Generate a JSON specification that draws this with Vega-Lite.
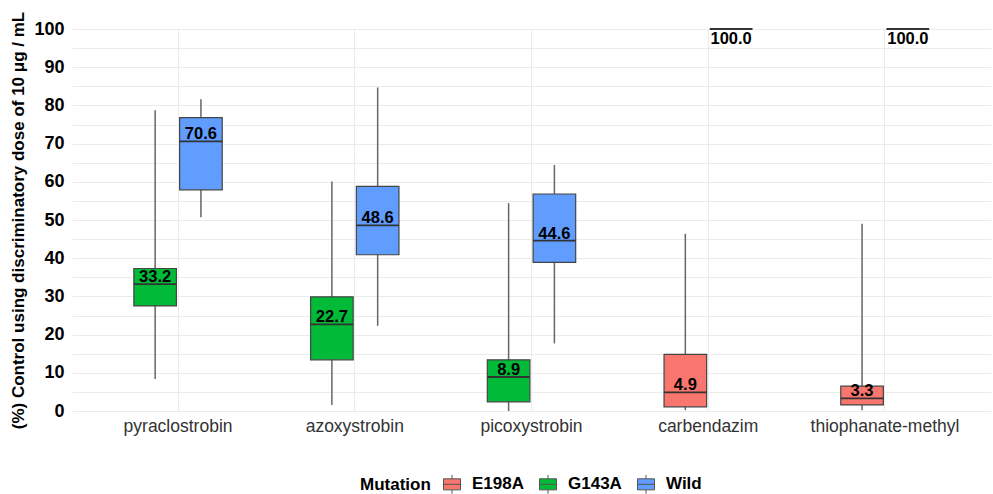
{
  "$schema": "https://vega.github.io/schema/vega-lite/v6.json",
  "autosize": {"type": "none"},
  "width": 919,
  "height": 382,
  "padding": {"left": 72, "top": 29, "right": 2, "bottom": 83},
  "background": "white",
  "config": {
    "view": {"stroke": null},
    "font": "Liberation Sans"
  },
  "data": {
    "values": [
      {"Fungicide": "pyraclostrobin", "Mutation": "G143A", "Slot": "1", "lo": 8.4, "q1": 27.5, "median": 33.2, "q3": 37.3, "hi": 78.7},
      {"Fungicide": "pyraclostrobin", "Mutation": "Wild", "Slot": "2", "lo": 50.7, "q1": 57.9, "median": 70.6, "q3": 76.8, "hi": 81.6},
      {"Fungicide": "azoxystrobin", "Mutation": "G143A", "Slot": "1", "lo": 1.6, "q1": 13.4, "median": 22.7, "q3": 29.9, "hi": 60.1},
      {"Fungicide": "azoxystrobin", "Mutation": "Wild", "Slot": "2", "lo": 22.3, "q1": 40.9, "median": 48.6, "q3": 58.8, "hi": 84.7},
      {"Fungicide": "picoxystrobin", "Mutation": "G143A", "Slot": "1", "lo": 0.0, "q1": 2.4, "median": 8.9, "q3": 13.4, "hi": 54.4},
      {"Fungicide": "picoxystrobin", "Mutation": "Wild", "Slot": "2", "lo": 17.7, "q1": 38.9, "median": 44.6, "q3": 56.8, "hi": 64.4},
      {"Fungicide": "carbendazim", "Mutation": "E198A", "Slot": "1", "lo": 0.2, "q1": 1.1, "median": 4.9, "q3": 14.8, "hi": 46.4},
      {"Fungicide": "carbendazim", "Mutation": "Wild", "Slot": "2", "lo": 100, "q1": 100, "median": 100, "q3": 100, "hi": 100},
      {"Fungicide": "thiophanate-methyl", "Mutation": "E198A", "Slot": "1", "lo": 0.2, "q1": 1.6, "median": 3.3, "q3": 6.5, "hi": 49.0},
      {"Fungicide": "thiophanate-methyl", "Mutation": "Wild", "Slot": "2", "lo": 100, "q1": 100, "median": 100, "q3": 100, "hi": 100}
    ]
  },
  "encoding": {
    "x": {
      "field": "Fungicide",
      "type": "nominal",
      "sort": ["pyraclostrobin", "azoxystrobin", "picoxystrobin", "carbendazim", "thiophanate-methyl"],
      "scale": {"paddingInner": 0.5, "paddingOuter": 0.35},
      "axis": {
        "title": null,
        "labelAngle": 0,
        "domain": false,
        "ticks": false,
        "grid": true,
        "bandPosition": 0.5,
        "gridColor": "#EBEBEB",
        "gridWidth": 1,
        "labelFontSize": 17.5,
        "labelColor": "#333333",
        "labelPadding": 6
      }
    },
    "xOffset": {
      "field": "Slot",
      "type": "nominal",
      "scale": {"paddingInner": 0.07, "paddingOuter": 0}
    }
  },
  "layer": [
    {
      "mark": {"type": "rule", "color": "#666666", "strokeWidth": 1.5},
      "encoding": {
        "y": {
          "field": "lo",
          "type": "quantitative",
          "scale": {"domain": [0, 100], "nice": false},
          "axis": {
            "title": "(%) Control using discriminatory dose of 10 μg / mL",
            "titleFontSize": 17,
            "titleFontWeight": "bold",
            "titleColor": "black",
            "titlePadding": 6,
            "tickCount": 20,
            "labelExpr": "datum.value % 10 === 0 ? datum.label : ''",
            "labelOverlap": false,
            "labelFontSize": 18,
            "labelFontWeight": "bold",
            "labelColor": "black",
            "labelPadding": 8,
            "domain": false,
            "ticks": false,
            "gridColor": "#EBEBEB",
            "gridWidth": 1
          }
        },
        "y2": {"field": "hi"}
      }
    },
    {
      "mark": {"type": "bar", "stroke": "#444444", "strokeWidth": 1.2, "opacity": 1},
      "encoding": {
        "y": {"field": "q1", "type": "quantitative"},
        "y2": {"field": "q3"},
        "color": {
          "field": "Mutation",
          "type": "nominal",
          "scale": {"domain": ["E198A", "G143A", "Wild"], "range": ["#F8766D", "#00BA38", "#619CFF"]},
          "legend": {
            "orient": "none",
            "legendX": 288,
            "legendY": 446,
            "direction": "horizontal",
            "titleOrient": "left",
            "title": "Mutation",
            "titleFontSize": 17,
            "titleFontWeight": "bold",
            "titleColor": "black",
            "titlePadding": 12,
            "labelFontSize": 17,
            "labelFontWeight": "bold",
            "labelColor": "black",
            "labelOffset": 11,
            "symbolType": "M-1,-0.65H1V0.65H-1Z M-1,0H1 M0,-0.65V-1.1 M0,0.65V1.1",
            "symbolSize": 289,
            "symbolStrokeColor": "#555555",
            "symbolStrokeWidth": 1,
            "symbolOpacity": 1,
            "columnPadding": 13
          }
        }
      }
    },
    {
      "mark": {"type": "bar", "filled": false, "stroke": "#333333", "strokeWidth": 1.8},
      "encoding": {
        "y": {"field": "median", "type": "quantitative"},
        "y2": {"field": "median"}
      }
    },
    {
      "transform": [{"filter": "datum.median < 100"}],
      "mark": {"type": "text", "fontSize": 16.5, "fontWeight": "bold", "color": "black", "baseline": "alphabetic", "dy": -2},
      "encoding": {
        "y": {"field": "median", "type": "quantitative"},
        "text": {"field": "median", "type": "quantitative", "format": ".1f"}
      }
    },
    {
      "transform": [{"filter": "datum.median >= 100"}],
      "mark": {"type": "text", "fontSize": 16.5, "fontWeight": "bold", "color": "black", "baseline": "top", "dy": 2},
      "encoding": {
        "y": {"field": "median", "type": "quantitative"},
        "text": {"field": "median", "type": "quantitative", "format": ".1f"}
      }
    }
  ]
}
